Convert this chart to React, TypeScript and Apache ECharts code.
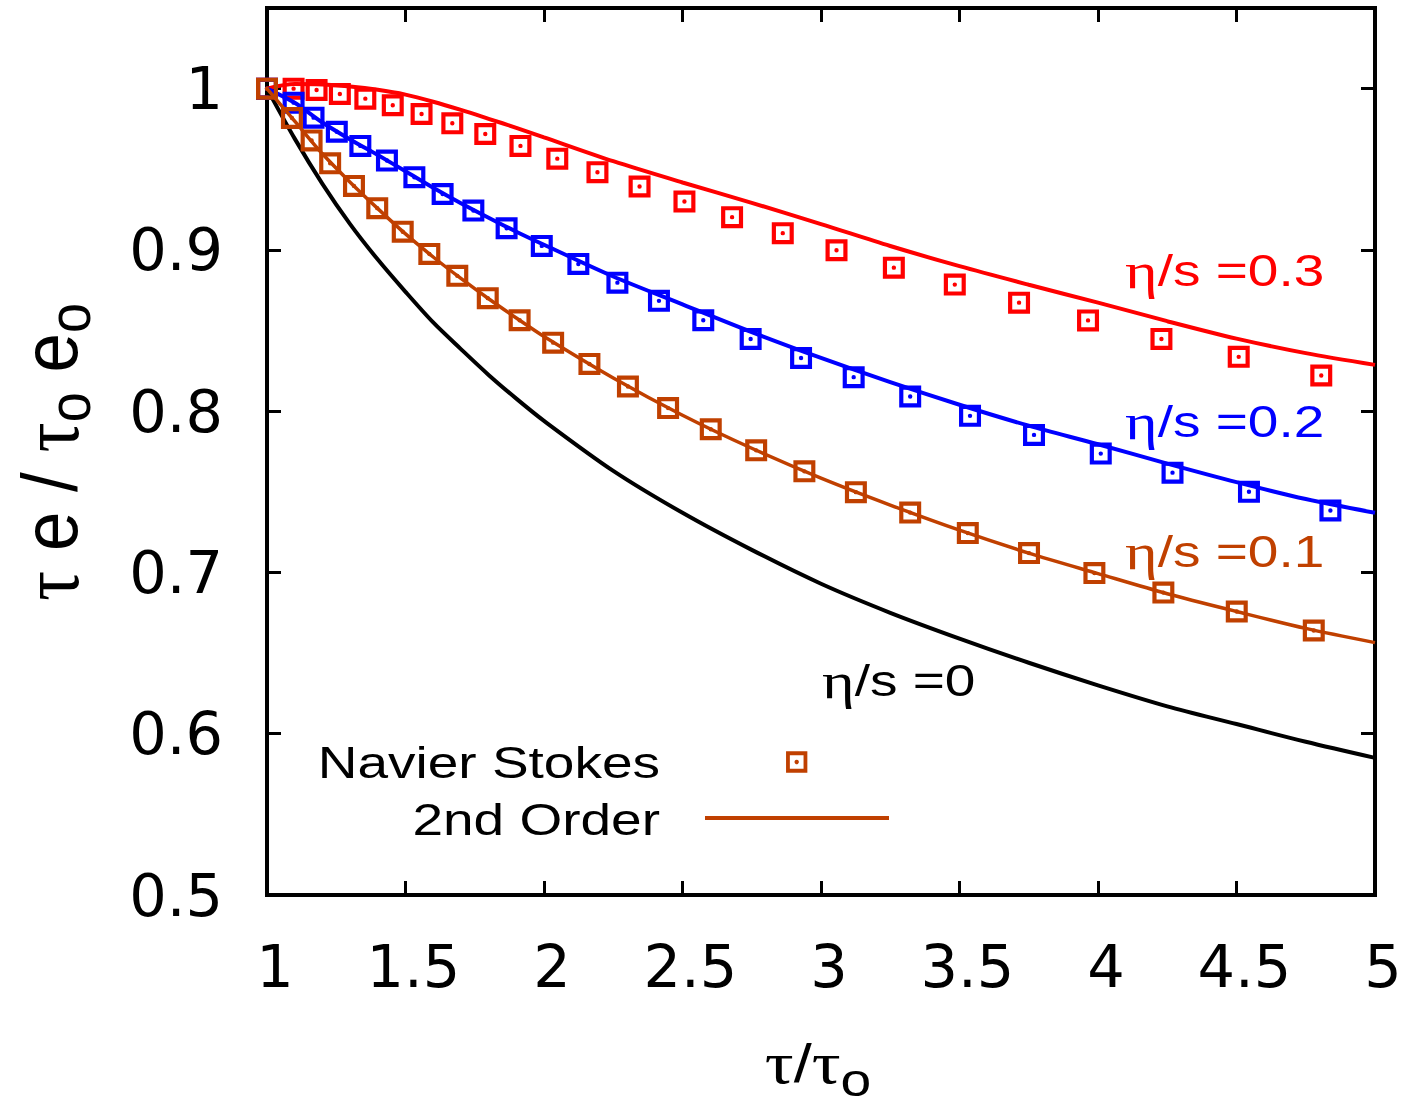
import React, { useEffect, useRef } from "react";
import * as echarts from "echarts";

// ---- axis ranges / ticks ----
const X_MIN = 1;
const X_MAX = 5;
const X_STEP = 0.5;
const Y_MIN = 0.5;
const Y_MAX = 1.05;
const Y_STEP = 0.1;

// ---- Navier-Stokes markers ----
const redMarkX = [1.0, 1.096, 1.179, 1.263, 1.355, 1.454, 1.558, 1.669, 1.788, 1.915, 2.048, 2.193, 2.345, 2.507, 2.679, 2.862, 3.056, 3.263, 3.483, 3.715, 3.964, 4.229, 4.508, 4.806];
const redMarkY = [1.0, 1.0, 0.9992, 0.9967, 0.9938, 0.9897, 0.9843, 0.9785, 0.9719, 0.9645, 0.9566, 0.9482, 0.9393, 0.93, 0.9203, 0.9104, 0.8998, 0.889, 0.8785, 0.8673, 0.8563, 0.8448, 0.8337, 0.8221];

const blueMarkX = [1.0, 1.096, 1.168, 1.252, 1.337, 1.433, 1.532, 1.634, 1.745, 1.865, 1.992, 2.124, 2.265, 2.415, 2.575, 2.746, 2.928, 3.118, 3.322, 3.538, 3.769, 4.01, 4.269, 4.545, 4.839];
const blueMarkY = [1.0, 0.9913, 0.982, 0.9733, 0.9645, 0.9554, 0.9451, 0.9347, 0.9244, 0.9134, 0.9025, 0.8913, 0.8797, 0.8684, 0.8564, 0.8448, 0.833, 0.8211, 0.8091, 0.7971, 0.7853, 0.7737, 0.7619, 0.75, 0.7384];

const orangeMarkX = [1.0, 1.09, 1.161, 1.228, 1.314, 1.398, 1.49, 1.586, 1.687, 1.797, 1.912, 2.033, 2.164, 2.303, 2.448, 2.602, 2.766, 2.94, 3.126, 3.322, 3.53, 3.751, 3.987, 4.236, 4.501, 4.779];
const orangeMarkY = [1.0, 0.9818, 0.9679, 0.9537, 0.9397, 0.9259, 0.9113, 0.8975, 0.8839, 0.8701, 0.8564, 0.8425, 0.8293, 0.8153, 0.8019, 0.7888, 0.7757, 0.7627, 0.7498, 0.7371, 0.7244, 0.712, 0.6996, 0.6875, 0.6758, 0.664];

// ---- 2nd order / ideal curves ----
const lineX = [1.0, 1.1, 1.2, 1.3, 1.4, 1.5, 1.6, 1.7, 1.8, 1.9, 2.0, 2.25, 2.5, 2.75, 3.0, 3.25, 3.5, 3.75, 4.0, 4.25, 4.5, 4.75, 5.0];
const redLineY = [1.0, 1.0028, 1.0025, 1.0013, 0.9993, 0.9963, 0.9919, 0.9868, 0.9813, 0.9757, 0.9698, 0.955, 0.9418, 0.9292, 0.916, 0.9024, 0.8899, 0.8784, 0.8673, 0.8558, 0.845, 0.836, 0.8287];
const blueLineY = [1.0, 0.9912, 0.979, 0.9685, 0.9588, 0.9488, 0.9386, 0.929, 0.92, 0.9113, 0.9032, 0.8835, 0.8662, 0.849, 0.833, 0.818, 0.804, 0.791, 0.7795, 0.7675, 0.756, 0.7455, 0.737];
const orangeLineY = [1.0, 0.9798, 0.9596, 0.942, 0.9256, 0.9099, 0.8956, 0.8823, 0.8697, 0.8578, 0.8463, 0.8206, 0.7975, 0.777, 0.7585, 0.7418, 0.7262, 0.712, 0.6993, 0.6868, 0.6758, 0.6653, 0.6565];
const idealLineY = [1.0, 0.969, 0.941, 0.916, 0.894, 0.874, 0.855, 0.8385, 0.8225, 0.8078, 0.794, 0.763, 0.737, 0.714, 0.693, 0.675, 0.659, 0.644, 0.63, 0.617, 0.606, 0.595, 0.585];

const RED = "#ff0000";
const BLUE = "#0000ff";
const ORANGE = "#c04000";
const BLACK = "#000000";

const MARK =
  "path://M0,0H20V20H0Z M3.8,3.8V16.2H16.2V3.8Z M8,10A2,2 0 1,0 12,10A2,2 0 1,0 8,10Z";

const zip = (xs: number[], ys: number[]) => xs.map((x, i) => [x, ys[i]]);

const SANS = "Liberation Sans";
const SERIF = "Liberation Serif";
const STRETCH = 1.25;

function annotation(text: string, x: number, y: number, color: string, align: string) {
  return {
    type: "text",
    x,
    y,
    scaleX: STRETCH,
    style: {
      text,
      fill: color,
      fontFamily: SANS,
      fontSize: 44,
      align,
      verticalAlign: "middle",
      rich: {
        g: { fontFamily: SERIF, fontSize: 50, fill: color },
      },
    },
  };
}

export default function App() {
  const ref = useRef<HTMLDivElement>(null);

  useEffect(() => {
    const chart = echarts.init(ref.current!, null, { renderer: "svg" });

    const frameLine = { show: true, onZero: false, lineStyle: { color: BLACK, width: 4, cap: "square" } };
    const tick = { show: true, inside: true, length: 14, lineStyle: { color: BLACK, width: 3 } };
    const tickFont = { color: BLACK, fontFamily: "DejaVu Sans", fontSize: 59 };

    const xBase = {
      type: "value",
      min: X_MIN,
      max: X_MAX,
      interval: X_STEP,
      splitLine: { show: false },
      axisLine: frameLine,
      axisTick: tick,
    };
    const yBase = {
      type: "value",
      min: Y_MIN,
      max: Y_MAX,
      interval: Y_STEP,
      splitLine: { show: false },
      axisLine: frameLine,
      axisTick: tick,
    };

    const scatter = (xs: number[], ys: number[], color: string, z: number) => ({
      type: "scatter",
      data: zip(xs, ys),
      symbol: MARK,
      symbolSize: 22,
      itemStyle: { color, opacity: 1 },
      z,
      silent: true,
    });
    const curve = (ys: number[], color: string, width: number, z: number) => ({
      type: "line",
      data: zip(lineX, ys),
      showSymbol: false,
      symbol: "none",
      smooth: 0.3,
      lineStyle: { color, width },
      z,
      silent: true,
    });

    chart.setOption({
      animation: false,
      backgroundColor: "#ffffff",
      grid: { left: 267, right: 33, top: 8, bottom: 214, containLabel: false },
      xAxis: [
        {
          ...xBase,
          position: "bottom",
          axisLabel: { ...tickFont, margin: 42, padding: [0, 0, 0, 16] },
        },
        { ...xBase, position: "top", axisLabel: { show: false } },
      ],
      yAxis: [
        {
          ...yBase,
          position: "left",
          axisLabel: { ...tickFont, margin: 44, showMaxLabel: false },
        },
        { ...yBase, position: "right", axisLabel: { show: false } },
      ],
      series: [
        scatter(redMarkX, redMarkY, RED, 2),
        curve(redLineY, RED, 4, 3),
        scatter(blueMarkX, blueMarkY, BLUE, 2),
        curve(blueLineY, BLUE, 4, 3),
        curve(idealLineY, BLACK, 4, 3),
        scatter(orangeMarkX, orangeMarkY, ORANGE, 4),
        curve(orangeLineY, ORANGE, 3.5, 5),
      ],
      graphic: [
        annotation("{g|η}/s =0.3", 1125, 271, RED, "left"),
        annotation("{g|η}/s =0.2", 1125, 422, BLUE, "left"),
        annotation("{g|η}/s =0.1", 1125, 552, ORANGE, "left"),
        annotation("{g|η}/s =0", 822, 681, BLACK, "left"),
        annotation("Navier Stokes", 660, 763, BLACK, "right"),
        annotation("2nd Order", 660, 820, BLACK, "right"),
        {
          type: "rect",
          shape: { x: 796.7 - 8.75, y: 762 - 8.75, width: 17.5, height: 17.5 },
          style: { fill: "none", stroke: ORANGE, lineWidth: 3.8 },
        },
        { type: "circle", shape: { cx: 796.7, cy: 762, r: 2.2 }, style: { fill: ORANGE } },
        {
          type: "line",
          shape: { x1: 705, y1: 818, x2: 889, y2: 818 },
          style: { stroke: ORANGE, lineWidth: 4 },
        },
        {
          type: "text",
          x: 818,
          y: 1063,
          scaleX: 1.2,
          style: {
            text: "{g|τ}/{g|τ}{s|o}",
            fill: BLACK,
            fontFamily: SANS,
            fontSize: 54,
            align: "center",
            verticalAlign: "middle",
            rich: {
              g: { fontFamily: SERIF, fontSize: 60, fill: BLACK },
              s: { fontFamily: SANS, fontSize: 46, fill: BLACK, padding: [34, 0, 0, 0] },
            },
          },
        },
        {
          type: "text",
          x: 50,
          y: 452,
          rotation: Math.PI / 2,
          scaleY: 1.1,
          style: {
            text: "{g|τ} e / {g|τ}{s|o} e{s|o}",
            fill: BLACK,
            fontFamily: SANS,
            fontSize: 71,
            align: "center",
            verticalAlign: "middle",
            rich: {
              g: { fontFamily: SERIF, fontSize: 75, fill: BLACK },
              s: { fontFamily: SANS, fontSize: 54, fill: BLACK, padding: [36, 0, 0, 0] },
            },
          },
        },
      ],
    });

    return () => chart.dispose();
  }, []);

  return (
    <div
      ref={ref}
      style={{ position: "absolute", left: 0, top: 0, width: 1408, height: 1109, background: "#ffffff" }}
    />
  );
}
